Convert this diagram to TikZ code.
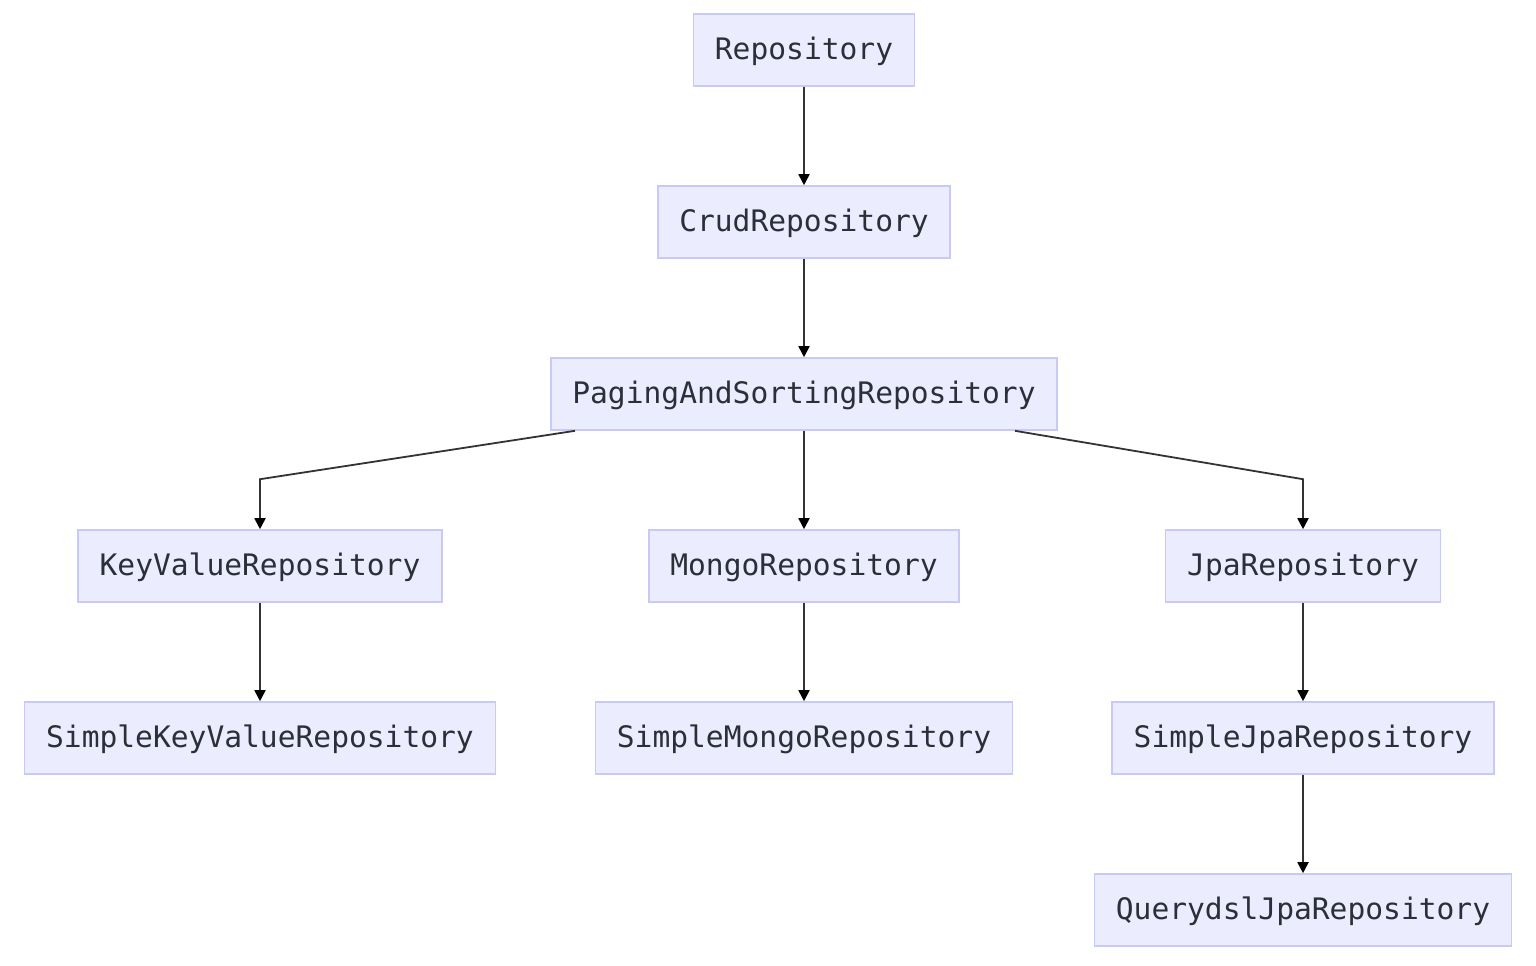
\documentclass[tikz,border=0pt]{standalone}
\usepackage{fontspec}
\newfontfamily\diagmono{DejaVu Sans Mono}
\usetikzlibrary{arrows.meta}
\definecolor{boxfill}{HTML}{ECECFF}
\definecolor{boxline}{HTML}{C9C9F7}
\definecolor{txt}{HTML}{2B2F38}
\definecolor{edge}{HTML}{333333}
\tikzset{
  cls/.style={draw=boxline, fill=boxfill, line width=1.6pt, minimum height=72pt,
    inner xsep=21.5pt, inner ysep=0pt, text=txt, text height=22pt, text depth=2.6pt,
    font=\diagmono\fontsize{29.6pt}{32pt}\selectfont},
  arr/.style={draw=edge, line width=1.8pt, -{Triangle[length=11pt,width=11pt,color=black]}}
}
\begin{document}
\begin{tikzpicture}[x=1pt,y=-1pt]
\useasboundingbox (0,0) rectangle (1536,966);
\node[cls] (R) at (804,50) {Repository};
\node[cls] (C) at (804,222) {CrudRepository};
\node[cls] (P) at (804,394) {PagingAndSortingRepository};
\node[cls] (K) at (260,566) {KeyValueRepository};
\node[cls] (M) at (804,566) {MongoRepository};
\node[cls] (J) at (1303,566) {JpaRepository};
\node[cls] (SK) at (260,738) {SimpleKeyValueRepository};
\node[cls] (SM) at (804,738) {SimpleMongoRepository};
\node[cls] (SJ) at (1303,738) {SimpleJpaRepository};
\node[cls] (Q) at (1303,910) {QuerydslJpaRepository};
\draw[arr] (R) -- (C);
\draw[arr] (C) -- (P);
\draw[arr] (P) -- (M);
\draw[arr] ([xshift=25pt]P.south west) -- ([yshift=50pt]K.north) -- (K.north);
\draw[arr] ([xshift=-43pt]P.south east) -- ([yshift=50pt]J.north) -- (J.north);
\draw[arr] (K) -- (SK);
\draw[arr] (M) -- (SM);
\draw[arr] (J) -- (SJ);
\draw[arr] (SJ) -- (Q);
\end{tikzpicture}
\end{document}
